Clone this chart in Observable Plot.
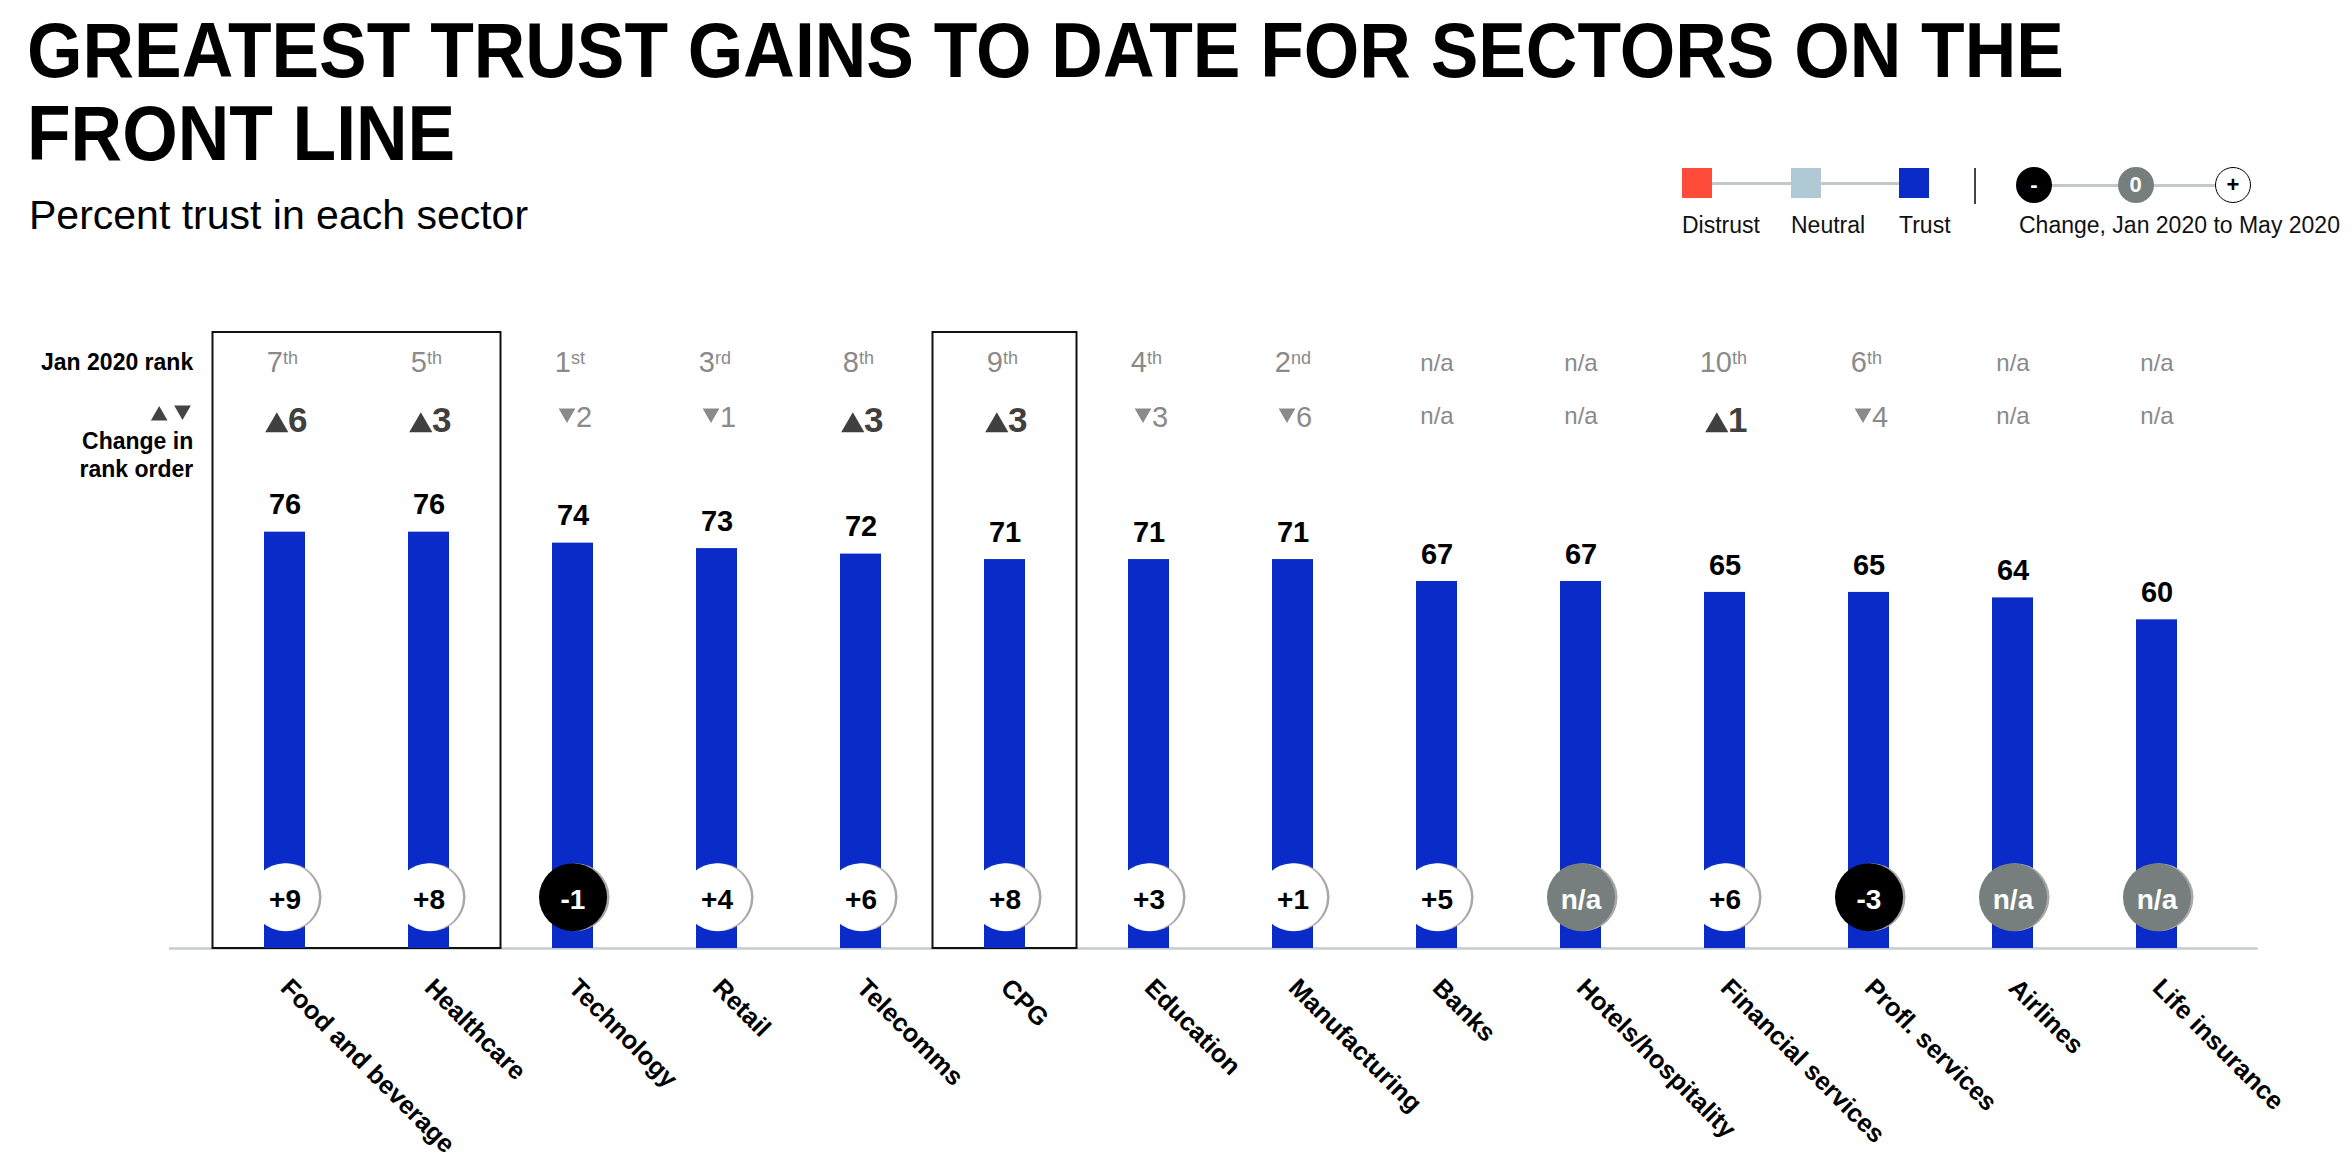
<!DOCTYPE html>
<html>
<head>
<meta charset="utf-8">
<script src="https://cdn.jsdelivr.net/npm/d3@7"></script>
<script src="https://cdn.jsdelivr.net/npm/@observablehq/plot@0.6"></script>
<style>
  html, body { margin: 0; padding: 0; background: #fff; }
  #page { position: relative; width: 2352px; height: 1162px; overflow: hidden;
          font-family: "Liberation Sans", Arial, Helvetica, sans-serif; color: #000; }
  #title { position: absolute; left: 27px; top: 9px; margin: 0; font-size: 78px; line-height: 83px;
           font-weight: bold; white-space: nowrap; transform: scaleX(0.915); transform-origin: 0 0; }
  #subtitle { position: absolute; left: 29px; top: 195px; margin: 0; font-size: 41px; line-height: 41px;
              font-weight: normal; white-space: nowrap; }
  #chart { position: absolute; left: 0; top: 300px; }
  .lg { position: absolute; box-sizing: border-box; }
  .lgtext { position: absolute; font-size: 23px; line-height: 23px; white-space: nowrap; color: #111; }
  .lgcircle { position: absolute; box-sizing: border-box; width: 36px; height: 36px; border-radius: 50%;
              display: flex; align-items: center; justify-content: center; font-weight: bold; font-size: 22px; }
</style>
</head>
<body>
<div id="page">
  <h1 id="title">GREATEST TRUST GAINS TO DATE FOR SECTORS ON THE<br>FRONT LINE</h1>
  <h2 id="subtitle">Percent trust in each sector</h2>
  <div id="legend"></div>
  <div id="chart"></div>
</div>
<script>
// ---------- data ----------
const sectors = ["Food and beverage", "Healthcare", "Technology", "Retail", "Telecomms", "CPG",
  "Education", "Manufacturing", "Banks", "Hotels/hospitality", "Financial services",
  "Profl. services", "Airlines", "Life insurance"];
const trust       = [76, 76, 74, 73, 72, 71, 71, 71, 67, 67, 65, 65, 64, 60];
const janRank     = [7, 5, 1, 3, 8, 9, 4, 2, null, null, 10, 6, null, null];
const rankChange  = [6, 3, -2, -1, 3, 3, -3, -6, null, null, 1, -4, null, null];
const trustChange = [9, 8, -1, 4, 6, 8, 3, 1, 5, null, 6, -3, null, null];
const highlighted = [{from: "Food and beverage", to: "Healthcare"}, {from: "CPG", to: "CPG"}];
const rowLabels = ["Jan 2020 rank", "Change in", "rank order"];

const trustLegend  = ["Distrust", "Neutral", "Trust"];
const trustColors  = ["#FF4B3A", "#AFCAD4", "#0A2BC8"];
const changeLegend = ["-", "0", "+"];
const changeLegendTitle = "Change, Jan 2020 to May 2020";

// ---------- styles ----------
const BLUE = "#0A2BC8", GREY = "#8a8a8a", DARK = "#404040", NA = "#767F7D";
const FONT = "'Liberation Sans', Arial, Helvetica, sans-serif";

const rows = sectors.map((s, i) => ({
  sector: s, trust: trust[i], rank: janRank[i], move: rankChange[i], change: trustChange[i]
}));
const ordinal = n => (n % 10 === 1 && n % 100 !== 11) ? "st"
                   : (n % 10 === 2 && n % 100 !== 12) ? "nd"
                   : (n % 10 === 3 && n % 100 !== 13) ? "rd" : "th";

// ---------- legend (HTML) ----------
const legend = document.getElementById("legend");
function add(cls, css, text) {
  const d = document.createElement("div");
  d.className = cls; Object.assign(d.style, css);
  if (text != null) d.textContent = text;
  legend.appendChild(d); return d;
}
const sqLeft = [1682, 1791, 1899];
add("lg", {left: "1697px", top: "181.5px", width: "217px", height: "3px", background: "#c3c8c8"});
trustLegend.forEach((name, i) => {
  add("lg", {left: sqLeft[i] + "px", top: "168px", width: "30px", height: "30px", background: trustColors[i]});
  add("lgtext", {left: sqLeft[i] + "px", top: "213.5px"}, name);
});
add("lg", {left: "1974px", top: "168px", width: "2px", height: "36px", background: "#444"});
const cCenter = [2034, 2135.5, 2233];
add("lg", {left: "2034px", top: "183.5px", width: "199px", height: "3px", background: "#c3c8c8"});
const cFill = ["#000", NA, "#fff"], cText = ["#fff", "#fff", "#000"];
changeLegend.forEach((s, i) => {
  add("lgcircle", {left: (cCenter[i] - 18) + "px", top: "167px", background: cFill[i], color: cText[i],
      border: i === 2 ? "1.5px solid #000" : "none"}, s);
});
add("lgtext", {left: "2019px", top: "213.5px"}, changeLegendTitle);

// ---------- chart ----------
const AT_TOP = {frameAnchor: "top"};
const chart = Plot.plot({
  width: 2352,
  height: 862,
  marginTop: 32,
  marginBottom: 214,
  marginLeft: 169,
  marginRight: 94.5,
  style: {fontFamily: FONT, background: "white", overflow: "visible", color: "#000"},
  x: {type: "band", domain: sectors, range: [211.65, 2229.05], paddingInner: 0.715, paddingOuter: 0.3575},
  y: {domain: [0, 100], range: [648, 100.2], axis: null},
  color: {type: "identity"},
  marks: [
    Plot.ruleY([0], {stroke: "#c5cbcd", strokeWidth: 2.5}),
    Plot.rect(highlighted, {x1: "from", x2: "to", fill: "none", stroke: "#111", strokeWidth: 2,
      insetLeft: -51.5, insetRight: -51.5}),
    Plot.barY(rows, {x: "sector", y: "trust", fill: BLUE}),
    // value labels
    Plot.text(rows, {x: "sector", y: "trust", text: d => String(d.trust), dy: -17.7, lineAnchor: "bottom",
      fontSize: 29, fontWeight: "bold", fill: "#000"}),
    // change circles (shadow + circle)
    Plot.dot(rows, {x: "sector", frameAnchor: "bottom", dy: -51.3, dx: 2.5, r: 34, fill: "#a9a9a9"}),
    Plot.dot(rows, {x: "sector", frameAnchor: "bottom", dy: -51.3, r: 34,
      fill: d => d.change == null ? NA : d.change < 0 ? "#000" : "#fff"}),
    Plot.text(rows, {x: "sector", frameAnchor: "bottom", dy: -39.7, lineAnchor: "bottom",
      text: d => d.change == null ? "n/a" : d.change > 0 ? "+" + d.change : String(d.change),
      fill: d => (d.change == null || d.change < 0) ? "#fff" : "#000", fontSize: 28, fontWeight: "bold"}),
    // Jan 2020 rank row
    Plot.text(rows.filter(d => d.rank != null && d.rank < 10), {x: "sector", ...AT_TOP, dy: 39, dx: -2,
      lineAnchor: "bottom", textAnchor: "end", text: d => String(d.rank), fontSize: 29, fill: GREY}),
    Plot.text(rows.filter(d => d.rank != null && d.rank < 10), {x: "sector", ...AT_TOP, dy: 31, dx: -2,
      lineAnchor: "bottom", textAnchor: "start", text: d => ordinal(d.rank), fontSize: 18, fill: GREY}),
    Plot.text(rows.filter(d => d.rank != null && d.rank >= 10), {x: "sector", ...AT_TOP, dy: 39, dx: 7,
      lineAnchor: "bottom", textAnchor: "end", text: d => String(d.rank), fontSize: 29, fill: GREY}),
    Plot.text(rows.filter(d => d.rank != null && d.rank >= 10), {x: "sector", ...AT_TOP, dy: 31, dx: 7,
      lineAnchor: "bottom", textAnchor: "start", text: d => ordinal(d.rank), fontSize: 18, fill: GREY}),
    Plot.text(rows.filter(d => d.rank == null), {x: "sector", ...AT_TOP, dy: 38, lineAnchor: "bottom",
      text: () => "n/a", fontSize: 24, fill: GREY}),
    // change in rank order row
    Plot.dot(rows.filter(d => d.move > 0), {x: "sector", ...AT_TOP, dy: 93, dx: -8.2, symbol: "triangle",
      r: 8.6, fill: DARK}),
    Plot.text(rows.filter(d => d.move > 0), {x: "sector", ...AT_TOP, dy: 99.7, dx: 3, lineAnchor: "bottom",
      textAnchor: "start", text: d => String(d.move), fontSize: 35, fontWeight: "bold", fill: DARK}),
    Plot.dot(rows.filter(d => d.move < 0), {x: "sector", ...AT_TOP, dy: 80.8, dx: -6, symbol: "triangle",
      rotate: 180, r: 6.2, fill: GREY}),
    Plot.text(rows.filter(d => d.move < 0), {x: "sector", ...AT_TOP, dy: 94, dx: 3, lineAnchor: "bottom",
      textAnchor: "start", text: d => String(Math.abs(d.move)), fontSize: 29, fill: GREY}),
    Plot.text(rows.filter(d => d.move == null), {x: "sector", ...AT_TOP, dy: 91, lineAnchor: "bottom",
      text: () => "n/a", fontSize: 24, fill: GREY}),
    // row labels on the left
    Plot.text([rowLabels[0]], {frameAnchor: "top-left", dx: 23.7, dy: 37.3, text: d => d, textAnchor: "end",
      lineAnchor: "bottom", fontSize: 23, fontWeight: "bold", fill: "#000"}),
    Plot.dot([rowLabels[1]], {frameAnchor: "top-left", dx: -10.3, dy: 83.2, symbol: "triangle", r: 6.2, fill: "#444"}),
    Plot.dot([rowLabels[1]], {frameAnchor: "top-left", dx: 13, dy: 77.8, symbol: "triangle", rotate: 180, r: 6.2, fill: "#444"}),
    Plot.text([rowLabels[1]], {frameAnchor: "top-left", dx: 23.7, dy: 116, text: d => d, textAnchor: "end",
      lineAnchor: "bottom", fontSize: 23, fontWeight: "bold", fill: "#000"}),
    Plot.text([rowLabels[2]], {frameAnchor: "top-left", dx: 23.7, dy: 144, text: d => d, textAnchor: "end",
      lineAnchor: "bottom", fontSize: 23, fontWeight: "bold", fill: "#000"}),
    // rotated sector labels
    Plot.axisX({tickRotate: 45, tickSize: 0, tickPadding: 35, fontSize: 25.5, fontWeight: "bold",
      textAnchor: "start", lineAnchor: "middle", label: null, fill: "#000"})
  ]
});
document.getElementById("chart").appendChild(chart);
</script>
</body>
</html>
